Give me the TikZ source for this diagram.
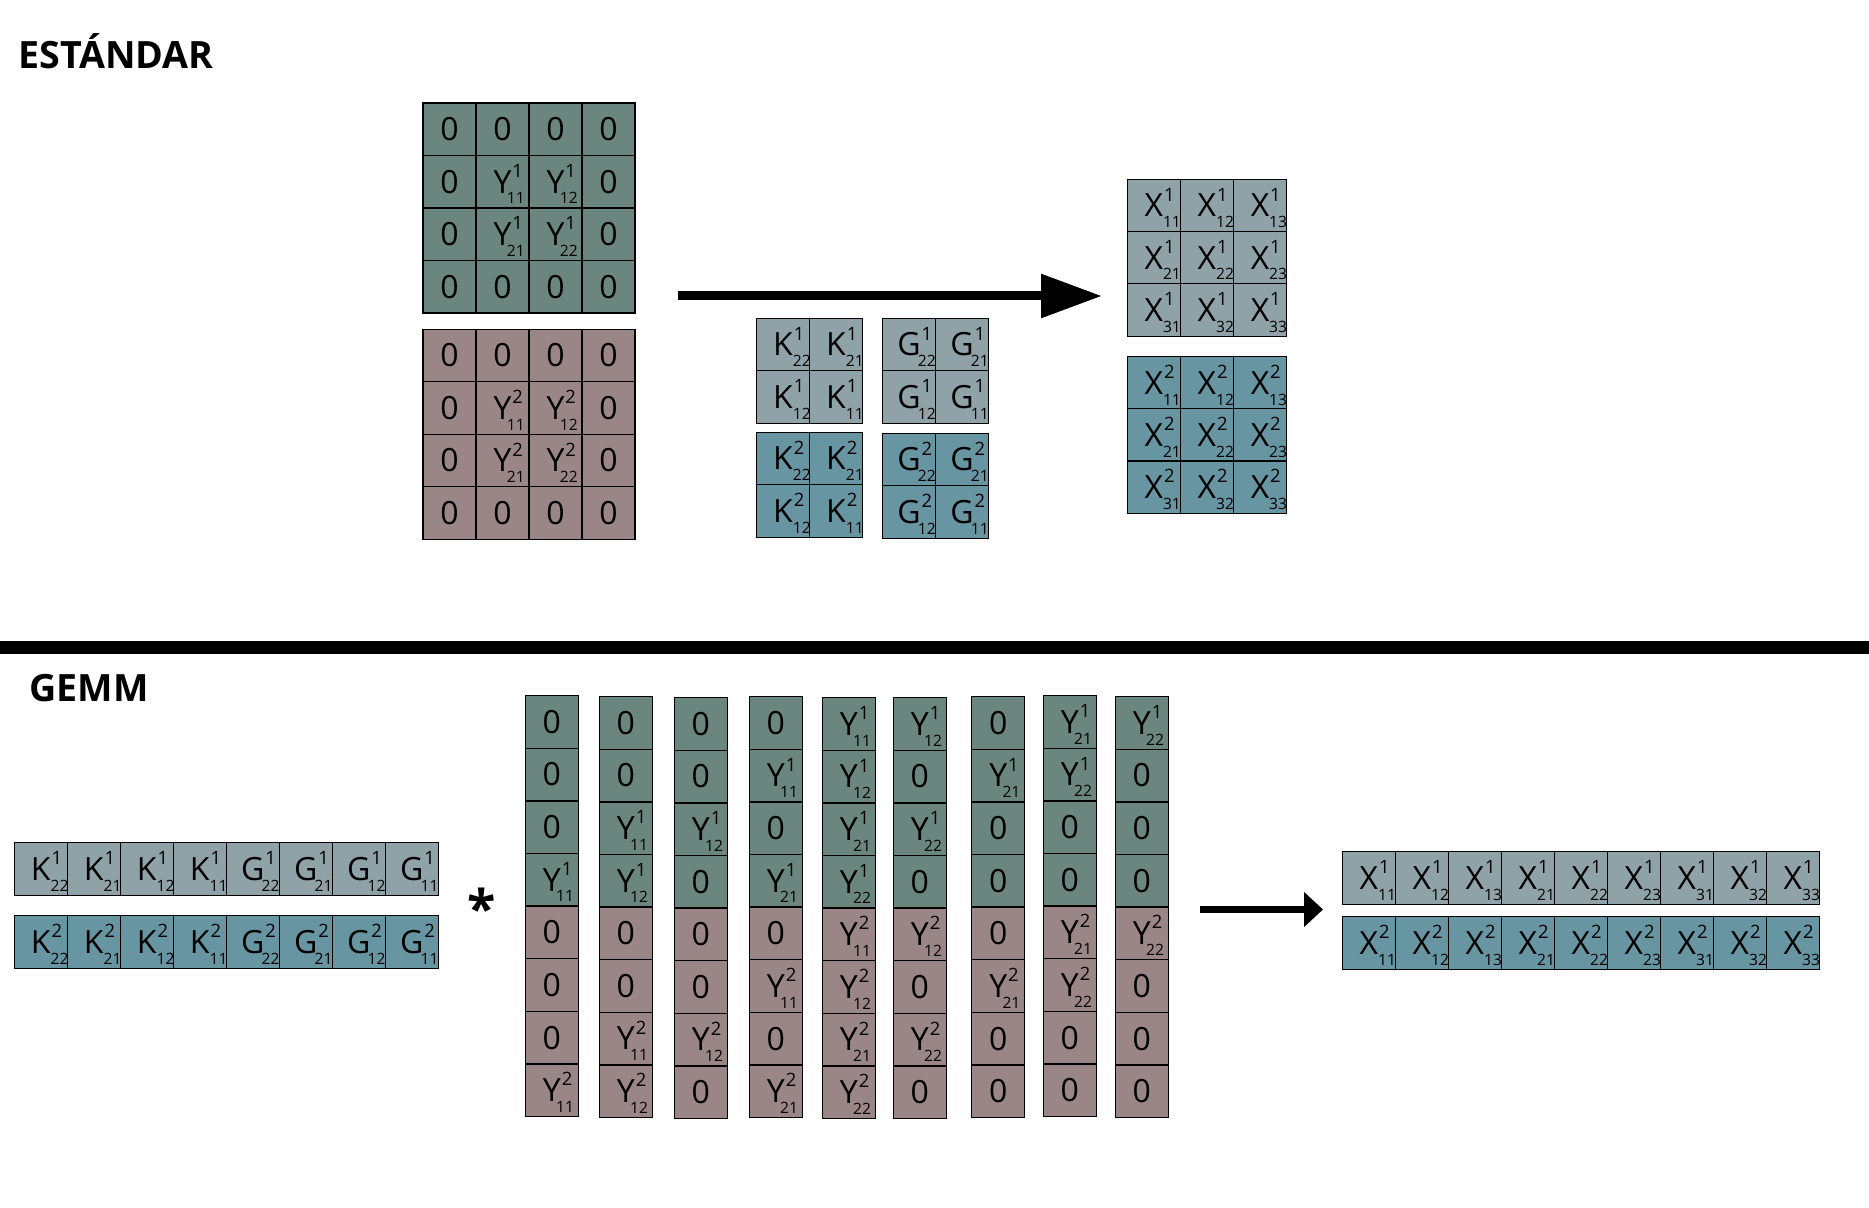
\documentclass[tikz,border=0pt]{standalone}
\usepackage{fontspec}
\setmainfont{Open Sans}
\usetikzlibrary{arrows.meta}
\definecolor{ygreen}{RGB}{106,134,126}
\definecolor{ymauve}{RGB}{155,134,135}
\definecolor{kgray}{RGB}{143,162,168}
\definecolor{kteal}{RGB}{104,149,162}
\newcommand\cellfont{\fontsize{16}{16}\selectfont}
\newcommand\supfont{\fontsize{9.2}{9.2}\selectfont}
\newcommand\subfont{\fontsize{7.8}{7.8}\selectfont}
\newcommand\Ent[4]{#1\rlap{\smash{\kern0.5pt\raisebox{7.9pt}{\supfont #2}}}\rlap{\smash{\kern#4\raisebox{-5.4pt}{\subfont #3}}}}
\newcommand\myY[2]{\Ent{Y}{#1}{#2}{-2.3pt}}
\newcommand\myK[2]{\Ent{K}{#1}{#2}{0pt}}
\newcommand\myG[2]{\Ent{G}{#1}{#2}{-1.4pt}}
\newcommand\myX[2]{\Ent{X}{#1}{#2}{0pt}}
\tikzset{
  cell/.style={draw=black, line width=0.6pt, minimum width=26.5pt, minimum height=26.25pt,
    inner sep=0pt, outer sep=0pt, anchor=north west, font=\cellfont, text=black},
  title/.style={font=\fontsize{18.8}{18.8}\selectfont\bfseries, inner sep=0pt, anchor=base west},
  bigarrow/.style={line width=4.5pt, -{Triangle[length=30.5pt,width=21pt]}},
  smallarrow/.style={line width=3.75pt, -{Triangle[length=9.5pt,width=17pt]}}
}
\newcommand\ycol[4]{%
  \foreach \v [count=\i] in {#4} {
    \ifnum\v=0 \def\ta{0}\def\tb{0}\else\def\ta{\myY{1}{\v}}\def\tb{\myY{2}{\v}}\fi
    \node[cell,fill=ygreen] (#1-a\i) at (#2,{#3+(\i-1)*52.6}) {\ta};
    \node[cell,fill=ymauve] (#1-b\i) at (#2,{#3+(\i+3)*52.6}) {\tb};
  }}
\begin{document}
\begin{tikzpicture}[x=0.5pt,y=-0.5pt]
\useasboundingbox (0,0) rectangle (1869,1208);
% titles
\node[title] (t1) at (18,68.3) {ESTÁNDAR};
\node[title] (t2) at (29,701.7) {GEMM};
% Y grids
\foreach \k/\ty/\col in {1/103/ygreen, 2/329.3/ymauve} {
  \foreach \r in {1,...,4} {
    \foreach \c in {1,...,4} {
      \pgfmathtruncatemacro\inner{and(and(\r>1,\r<4),and(\c>1,\c<4))}
      \pgfmathtruncatemacro\rr{\r-1}
      \pgfmathtruncatemacro\cc{\c-1}
      \ifnum\inner=1 \def\txt{\myY{\k}{\rr\cc}}\else\def\txt{0}\fi
      \node[cell,fill=\col] (y\k-\r-\c) at ({423+(\c-1)*53},{\ty+(\r-1)*52.5}) {\txt};
    }}}
% K / G blocks
\foreach \L/\k/\lx/\ty/\col in {K/1/756.5/318.3/kgray, G/1/882.5/318.3/kgray, K/2/756.5/432.3/kteal, G/2/882.5/433.3/kteal} {
  \foreach \r in {1,2} {
    \foreach \c in {1,2} {
      \pgfmathtruncatemacro\a{3-\r}
      \pgfmathtruncatemacro\b{3-\c}
      \node[cell,fill=\col] (kb\L\k-\r-\c) at ({\lx+(\c-1)*53},{\ty+(\r-1)*52.5}) {\csname my\L\endcsname{\k}{\a\b}};
    }}}
% X grids
\foreach \k/\ty/\col in {1/179.3/kgray, 2/356.7/kteal} {
  \foreach \r in {1,2,3} {
    \foreach \c in {1,2,3} {
      \node[cell,fill=\col] (x\k-\r-\c) at ({1127.3+(\c-1)*53.1},{\ty+(\r-1)*52.2}) {\myX{\k}{\r\c}};
    }}}
% big arrow
\coordinate (a1s) at (678,296);
\coordinate (a1e) at (1102,296);
\draw[bigarrow] (a1s) -- (a1e);
% separator
\fill[black] (0,641) rectangle (1869,654);
% GEMM K rows
\foreach \k/\ty/\col in {1/842.7/kgray, 2/915.7/kteal} {
  \foreach \L/\s [count=\i] in {K/22,K/21,K/12,K/11,G/22,G/21,G/12,G/11} {
    \node[cell,fill=\col] (kr\k-\i) at ({14.3+(\i-1)*53},\ty) {\csname my\L\endcsname{\k}{\s}};
  }}
% asterisk
\node[font=\fontsize{26}{26}\selectfont\bfseries, inner sep=0pt, anchor=base] (ast) at (481.5,927) {*};
% Y columns
\ycol{c1}{525.3}{695.7}{0,0,0,11}
\ycol{c2}{599.3}{696.7}{0,0,11,12}
\ycol{c3}{674.3}{697.7}{0,0,12,0}
\ycol{c4}{749.3}{696.7}{0,11,0,21}
\ycol{c5}{822.3}{697.7}{11,12,21,22}
\ycol{c6}{893.3}{697.7}{12,0,22,0}
\ycol{c7}{971.7}{696.7}{0,21,0,0}
\ycol{c8}{1043.3}{695.7}{21,22,0,0}
\ycol{c9}{1115.3}{696.7}{22,0,0,0}
% small arrow
\coordinate (a2s) at (1199.5,909.5);
\coordinate (a2e) at (1323,909.5);
\draw[smallarrow] (a2s) -- (a2e);
% X rows
\foreach \k/\ty/\col in {1/851.7/kgray, 2/916.7/kteal} {
  \foreach \s [count=\i] in {11,12,13,21,22,23,31,32,33} {
    \node[cell,fill=\col] (xr\k-\i) at ({1342.4+(\i-1)*53},\ty) {\myX{\k}{\s}};
  }}
\end{tikzpicture}
\end{document}
